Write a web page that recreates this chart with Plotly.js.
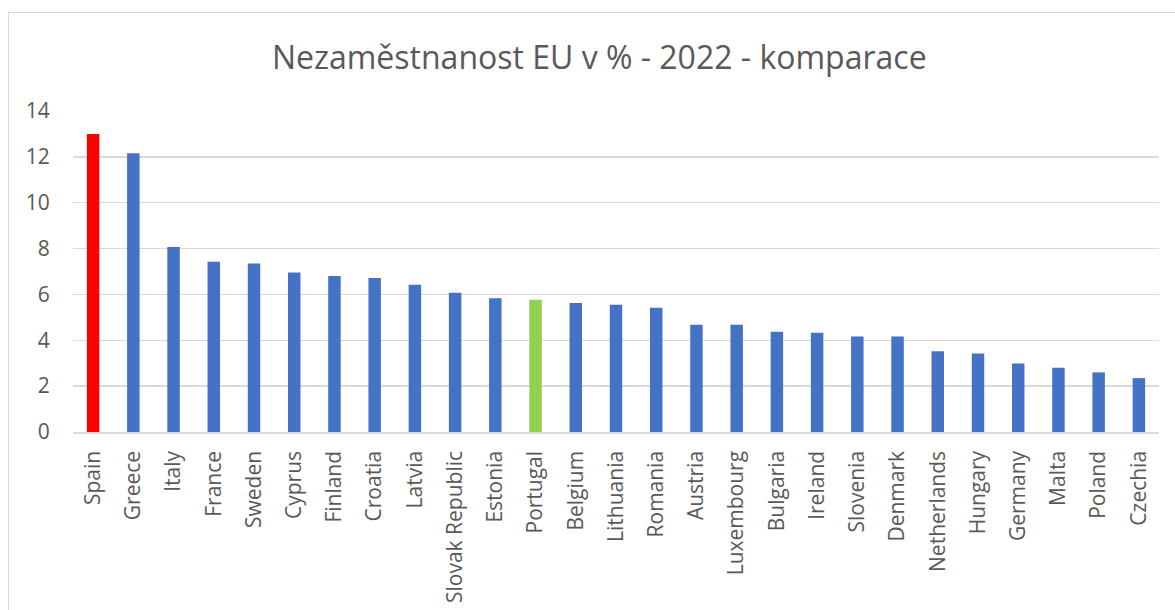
<!DOCTYPE html>
<html>
<head>
<meta charset="utf-8">
<script src="https://cdn.plot.ly/plotly-3.0.1.min.js"></script>
<style>
  html, body { margin: 0; padding: 0; background: #fff; }
  #wrap { position: relative; width: 1175px; height: 610px; overflow: hidden; }
  #chart { position: absolute; left: 0; top: 0; width: 1175px; height: 610px; }
  #frame { position: absolute; left: 8px; top: 12px; width: 1200px; height: 700px;
           border-left: 1.5px solid #d9d9d9; border-top: 1.5px solid #d9d9d9; pointer-events: none; }
</style>
</head>
<body>
<div id="wrap">
  <div id="chart"></div>
  <div id="frame"></div>
</div>
<script>
const countries = ["Spain","Greece","Italy","France","Sweden","Cyprus","Finland","Croatia","Latvia",
  "Slovak Republic","Estonia","Portugal","Belgium","Lithuania","Romania","Austria","Luxembourg",
  "Bulgaria","Ireland","Slovenia","Denmark","Netherlands","Hungary","Germany","Malta","Poland","Czechia"];
const unemployment = [13.0,12.16,8.07,7.43,7.35,6.96,6.80,6.72,6.42,
  6.07,5.83,5.77,5.63,5.55,5.42,4.68,4.68,
  4.37,4.33,4.16,4.16,3.52,3.42,2.99,2.80,2.60,2.35];
const yTicks = [0,2,4,6,8,10,12,14];
const chartTitle = "Nezaměstnanost EU v % - 2022 - komparace";

const barColors = countries.map(c => c === "Spain" ? "#ff0000" : (c === "Portugal" ? "#92d050" : "#4472c4"));

const trace = {
  type: "bar",
  x: countries,
  y: unemployment,
  marker: { color: barColors, line: { width: 0 } },
  hoverinfo: "x+y"
};

const layout = {
  width: 1175,
  height: 610,
  margin: { l: 73, r: 16, t: 111, b: 178, pad: 0 },
  paper_bgcolor: "#ffffff",
  plot_bgcolor: "#ffffff",
  bargap: 0.69,
  showlegend: false,
  font: { family: "Open Sans, sans-serif", color: "#595959" },
  title: {
    text: chartTitle,
    font: { family: "Open Sans, sans-serif", size: 32, color: "#595959" },
    x: 0.51, xanchor: "center",
    y: 1 - 58 / 610, yanchor: "middle", yref: "container"
  },
  xaxis: {
    type: "category",
    tickangle: -90,
    tickfont: { size: 21, color: "#595959" },
    ticks: "outside", ticklen: 9, tickcolor: "rgba(0,0,0,0)",
    showgrid: false,
    showline: true, linecolor: "#d9d9d9", linewidth: 1.5,
    fixedrange: true
  },
  yaxis: {
    range: [0, 14],
    tickvals: yTicks,
    ticktext: yTicks.map(String),
    tickfont: { size: 21, color: "#595959" },
    ticks: "outside", ticklen: 18, tickcolor: "rgba(0,0,0,0)",
    showgrid: true, gridcolor: "#d9d9d9", gridwidth: 1.3,
    zeroline: false,
    showline: false,
    fixedrange: true
  }
};

Plotly.newPlot("chart", [trace], layout, { displayModeBar: false, staticPlot: true });
</script>
</body>
</html>
